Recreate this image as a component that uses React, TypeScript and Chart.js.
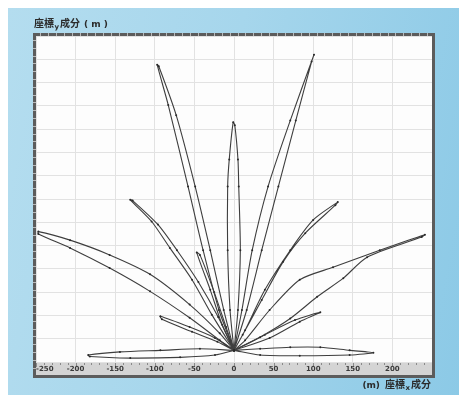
import React, { useEffect, useRef } from "react";
import { Chart, registerables } from "chart.js";
Chart.register(...registerables);

// axis ticks / grid
const xTickValues = [-250, -200, -150, -100, -50, 0, 50, 100, 150, 200, 250];
const yGridValues = [-15, 15, 45, 75, 105, 135, 165, 195, 225, 255, 285, 315, 345, 375, 405];

// petals (x, y in metres), each a closed loop out from and back to the origin
const farLeftX = [0, -18, -56, -106, -157, -207, -247, -247, -207, -157, -106, -56, -18, 0];
const farLeftY = [0, 22, 59, 98, 123, 142, 153, 150, 132, 106, 76, 42, 13, 0];

const upperLeftX = [0, -13, -30, -49, -73, -95, -97, -83, -58, -39, -19, 0];
const upperLeftY = [0, 52, 129, 211, 303, 366, 368, 316, 211, 129, 52, 0];

const centerX = [0, 5, 8, 6, 5, 1, -1, -6, -8, -8, -5, 0];
const centerY = [0, 52, 129, 211, 246, 290, 294, 246, 211, 129, 52, 0];

const upperRightX = [0, 16, 35, 56, 78, 98, 101, 71, 43, 23, 10, 0];
const upperRightY = [0, 52, 129, 211, 296, 372, 381, 296, 211, 129, 52, 0];

const leftMidX = [0, -20, -45, -72, -96, -128, -131, -104, -81, -53, -28, 0];
const leftMidY = [0, 43, 88, 129, 162, 193, 194, 166, 132, 91, 46, 0];

const leftSmallX = [0, -10, -25, -43, -47, -30, -15, 0];
const leftSmallY = [0, 30, 75, 123, 126, 78, 33, 0];

const leftLowX = [0, -21, -53, -91, -93, -56, -24, 0];
const leftLowY = [0, 11, 24, 40, 44, 30, 16, 0];

const rightMidX = [0, 11, 35, 62, 90, 128, 131, 100, 71, 39, 14, 0];
const rightMidY = [0, 20, 65, 114, 151, 187, 191, 168, 129, 78, 26, 0];

const farRightX = [0, 33, 71, 105, 138, 168, 237, 241, 184, 125, 83, 45, 14, 0];
const farRightY = [0, 17, 41, 69, 93, 120, 146, 149, 129, 107, 91, 52, 13, 0];

const rightLowX = [0, 39, 77, 109, 83, 45, 0];
const rightLowY = [0, 20, 39, 49, 37, 16, 0];

const flatLeftX = [0, -43, -93, -144, -184, -182, -131, -68, -24, 0];
const flatLeftY = [0, 2, 0, -2, -6, -8, -10, -9, -6, 0];

const flatRightX = [0, 33, 71, 109, 146, 176, 146, 83, 33, 0];
const flatRightY = [0, 2, 4, 4, 0, -3, -6, -7, -6, 0];

const petals: [number[], number[]][] = [
  [farLeftX, farLeftY],
  [upperLeftX, upperLeftY],
  [centerX, centerY],
  [upperRightX, upperRightY],
  [leftMidX, leftMidY],
  [leftSmallX, leftSmallY],
  [leftLowX, leftLowY],
  [rightMidX, rightMidY],
  [farRightX, farRightY],
  [rightLowX, rightLowY],
  [flatLeftX, flatLeftY],
  [flatRightX, flatRightY],
];

const BAND_H = 13;

const framePlugin = {
  id: "frame",
  beforeDraw(chart: any) {
    const { ctx, chartArea: a } = chart;
    ctx.save();
    ctx.fillStyle = "#fdfdfd";
    ctx.fillRect(a.left, a.top, a.right - a.left, a.bottom - a.top);
    // bottom band
    ctx.fillStyle = "#d4d4d4";
    ctx.fillRect(a.left, a.bottom, a.right - a.left, BAND_H);
    ctx.fillStyle = "#9a9a9a";
    ctx.fillRect(a.left, a.bottom, a.right - a.left, 1);
    ctx.strokeStyle = "#8a8a8a";
    ctx.lineWidth = 1;
    const xs = chart.scales.x;
    for (let v = -250; v <= 250; v += 10) {
      const px = Math.round(xs.getPixelForValue(v)) + 0.5;
      ctx.beginPath();
      ctx.moveTo(px, a.bottom + 1);
      ctx.lineTo(px, a.bottom + (v % 50 === 0 ? 5 : 3));
      ctx.stroke();
    }
    ctx.restore();
  },
  afterDraw(chart: any) {
    const { ctx, chartArea: a } = chart;
    const bottom = a.bottom + BAND_H;
    ctx.save();
    ctx.strokeStyle = "#5c5c5c";
    ctx.lineWidth = 3;
    ctx.strokeRect(a.left - 1.5, a.top - 1.5, a.right - a.left + 3, bottom - a.top + 3);
    // ruler marks on top and left borders
    ctx.strokeStyle = "#b8b8b8";
    ctx.lineWidth = 1;
    for (let x = a.left + 4; x < a.right; x += 7.9) {
      ctx.beginPath();
      ctx.moveTo(Math.round(x) + 0.5, a.top - 3);
      ctx.lineTo(Math.round(x) + 0.5, a.top);
      ctx.stroke();
    }
    for (let y = a.top + 4; y < bottom; y += 7.8) {
      ctx.beginPath();
      ctx.moveTo(a.left - 3, Math.round(y) + 0.5);
      ctx.lineTo(a.left, Math.round(y) + 0.5);
      ctx.stroke();
    }
    // axis titles
    ctx.fillStyle = "#2b2b2b";
    ctx.textBaseline = "alphabetic";
    ctx.textAlign = "left";
    const big = "bold 10px 'Noto Sans CJK JP', sans-serif";
    const small = "bold 7px 'DejaVu Sans', sans-serif";
    let tx = a.left - 2;
    const ty = a.top - 9;
    ctx.font = big;
    ctx.fillText("座標", tx, ty);
    tx += ctx.measureText("座標").width + 0.5;
    ctx.font = small;
    ctx.fillText("y", tx, ty + 2);
    tx += ctx.measureText("y").width + 1;
    ctx.font = big;
    ctx.fillText("成分", tx, ty);
    tx += ctx.measureText("成分").width + 4;
    ctx.font = "bold 9px 'DejaVu Sans', sans-serif";
    ctx.fillText("( m )", tx, ty);

    // x title, right aligned
    const by = bottom + 13;
    ctx.font = big;
    const w1 = ctx.measureText("成分").width;
    let rx = a.right - 1 - w1;
    ctx.fillText("成分", rx, by);
    ctx.font = small;
    const wx = ctx.measureText("x").width;
    rx -= wx + 1;
    ctx.fillText("x", rx, by + 2);
    ctx.font = big;
    const w2 = ctx.measureText("座標").width;
    rx -= w2 + 0.5;
    ctx.fillText("座標", rx, by);
    ctx.font = "bold 9px 'DejaVu Sans', sans-serif";
    const w3 = ctx.measureText("(m)").width;
    rx -= w3 + 5;
    ctx.fillText("(m)", rx, by);
    ctx.restore();
  },
};

export default function App() {
  const ref = useRef<HTMLCanvasElement | null>(null);
  useEffect(() => {
    if (!ref.current) return;
    const datasets = petals.map(([xs, ys]) => ({
      data: xs.map((x, i) => ({ x, y: ys[i] })),
      showLine: true,
      borderColor: "#3e3e3e",
      borderWidth: 1.1,
      tension: 0.25,
      pointRadius: 1,
      pointBackgroundColor: "#2a2a2a",
      pointBorderWidth: 0,
      fill: false,
    }));
    const chart = new Chart(ref.current, {
      type: "scatter",
      data: { datasets },
      plugins: [framePlugin],
      options: {
        animation: false,
        responsive: true,
        maintainAspectRatio: false,
        layout: { padding: { left: 28, top: 28, right: 35, bottom: 20 } },
        plugins: { legend: { display: false }, tooltip: { enabled: false } },
        scales: {
          x: {
            type: "linear",
            min: -250,
            max: 250,
            afterBuildTicks: (s: any) => {
              s.ticks = xTickValues.map((v) => ({ value: v }));
            },
            afterFit: (s: any) => {
              s.height = BAND_H;
            },
            grid: { color: "#e2e2e2", lineWidth: 1, drawTicks: false },
            border: { display: false },
            ticks: {
              autoSkip: false,
              maxRotation: 0,
              padding: 3,
              align: "inner",
              color: "#3a3a3a",
              font: { family: "'DejaVu Sans', sans-serif", size: 7, weight: "bold" },
              callback: (v: any) => (v === 250 ? "" : String(v)),
            },
          },
          y: {
            type: "linear",
            min: -15,
            max: 405,
            afterBuildTicks: (s: any) => {
              s.ticks = yGridValues.map((v) => ({ value: v }));
            },
            afterFit: (s: any) => {
              s.width = 0;
            },
            grid: { color: "#e2e2e2", lineWidth: 1, drawTicks: false },
            border: { display: false },
            ticks: { display: false },
          },
        },
      },
    });
    return () => chart.destroy();
  }, []);
  return (
    <div
      style={{
        width: 459,
        height: 387,
        position: "relative",
        background: "linear-gradient(100deg, #b4ddef 0%, #a6d6ec 45%, #8bc9e6 100%)",
      }}
    >
      <canvas ref={ref} />
    </div>
  );
}
